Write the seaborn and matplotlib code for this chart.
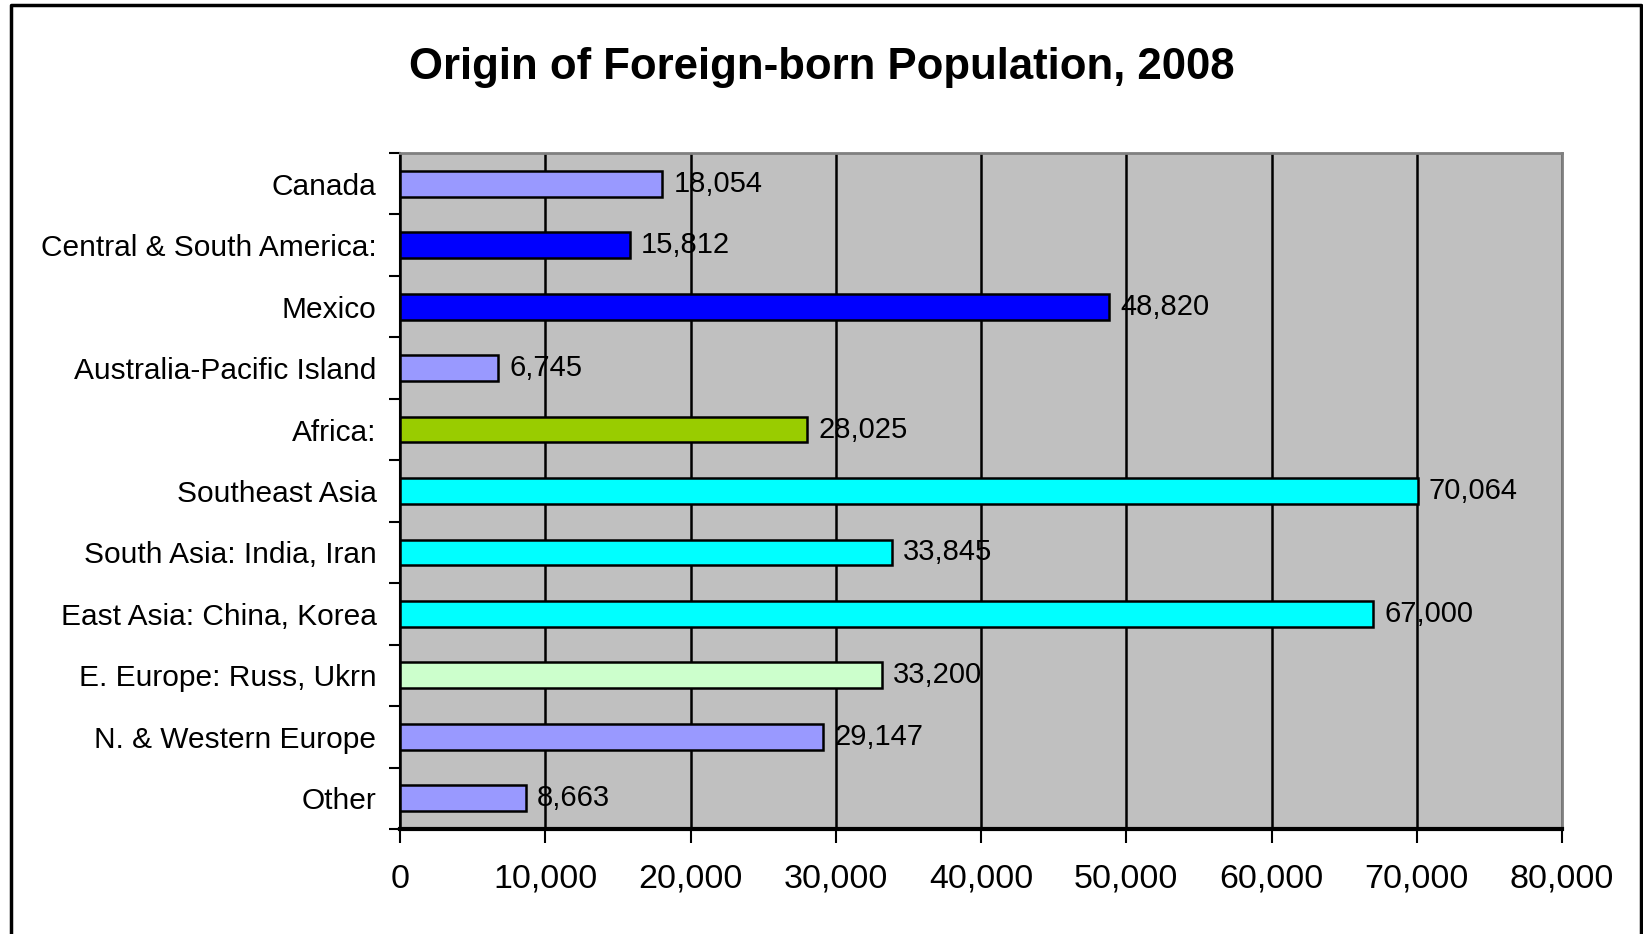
import matplotlib
matplotlib.use("Agg")
import matplotlib.pyplot as plt
import numpy as np
import pandas as pd
import seaborn as sns

regions = [
    "Canada",
    "Central & South America:",
    "Mexico",
    "Australia-Pacific Island",
    "Africa:",
    "Southeast Asia",
    "South Asia: India, Iran",
    "East Asia: China, Korea",
    "E. Europe: Russ, Ukrn",
    "N. & Western Europe",
    "Other",
]
population = [18054, 15812, 48820, 6745, 28025, 70064, 33845, 67000, 33200, 29147, 8663]
bar_colors = [
    "#9999FF", "#0000FF", "#0000FF", "#9999FF", "#99CC00", "#00FFFF",
    "#00FFFF", "#00FFFF", "#CCFFCC", "#9999FF", "#9999FF",
]
xticks = [0, 10000, 20000, 30000, 40000, 50000, 60000, 70000, 80000]

df = pd.DataFrame({"region": regions, "pop": population})

sns.set_style("white")
plt.rcParams["font.family"] = ["Liberation Sans", "DejaVu Sans"]
plt.rcParams["text.color"] = "black"
plt.rcParams["xtick.color"] = "black"
plt.rcParams["ytick.color"] = "black"

fig = plt.figure(figsize=(16.43, 9.34), dpi=100)
W, H = 1643, 934
ax = fig.add_axes([400 / W, 1 - 829 / H, 1162 / W, 676 / H])

sns.barplot(
    data=df, x="pop", y="region", hue="region", palette=bar_colors,
    orient="h", width=0.42, edgecolor="black", linewidth=1.8,
    saturation=1, legend=False, ax=ax,
)

ax.set_facecolor("#C0C0C0")
ax.set_xlim(0, 80000)
ax.set_ylim(10.5, -0.5)
ax.set_xticks(xticks)
ax.set_xticklabels([f"{v:,}" for v in xticks], fontsize=24.5)
ax.set_xlabel("")
ax.set_ylabel("")
ax.set_axisbelow(True)
ax.grid(axis="x", color="black", linewidth=1.8)
ax.grid(axis="y", visible=False)

ax.tick_params(axis="y", which="major", length=0, pad=17, labelsize=21.5)
ax.set_yticks(np.arange(-0.5, 11, 1), minor=True)
ax.tick_params(axis="y", which="minor", left=True, length=8, width=1.5, color="black")
ax.tick_params(axis="x", which="major", bottom=True, length=10, width=1.5,
               color="black", pad=15)

for side in ["top", "right"]:
    ax.spines[side].set_color("#808080")
    ax.spines[side].set_linewidth(2)
ax.spines["left"].set_color("black")
ax.spines["left"].set_linewidth(1.5)
ax.spines["bottom"].set_color("black")
ax.spines["bottom"].set_linewidth(3)

for cont in ax.containers:
    ax.bar_label(cont, labels=[f"{v:,.0f}" for v in cont.datavalues],
                 padding=8, fontsize=21)

fig.text(0.5, 1 - 67 / H, "Origin of Foreign-born Population, 2008",
         ha="center", va="center", fontsize=31.5, fontweight="bold")

# outer frame (left, top, right)
fig.add_artist(plt.Line2D([11 / W, 11 / W, 1641 / W, 1641 / W],
                          [0, 1 - 5 / H, 1 - 5 / H, 0],
                          transform=fig.transFigure, color="black", linewidth=2.5))

fig.savefig("out.png", dpi=100)
